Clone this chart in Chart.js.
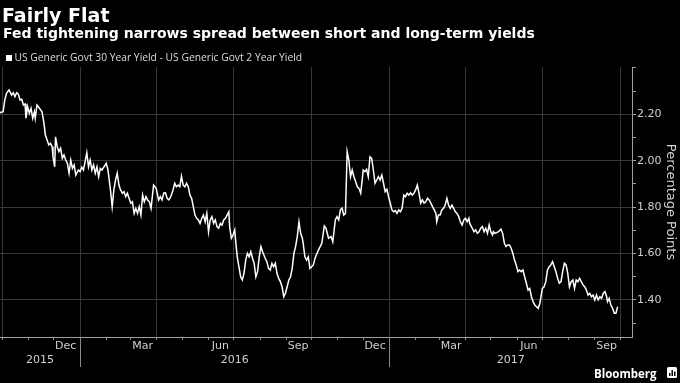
<!DOCTYPE html>
<html>
<head>
<meta charset="utf-8">
<script src="https://cdn.jsdelivr.net/npm/chart.js@4/dist/chart.umd.min.js"></script>
<style>
  html, body { margin: 0; padding: 0; background: #000; }
  canvas { display: block; }
</style>
</head>
<body>
<canvas id="c" width="680" height="383"></canvas>
<script>
// ---- text ----
const chartTitle = 'Fairly Flat';
const chartSubtitle = 'Fed tightening narrows spread between short and long-term yields';
const seriesLabel = 'US Generic Govt 30 Year Yield - US Generic Govt 2 Year Yield';
const axisTitle = 'Percentage Points';
const sourceLabel = 'Bloomberg';

// ---- axis ticks ----
const yTickValues = [1.3, 1.4, 1.5, 1.6, 1.7, 1.8, 1.9, 2.0, 2.1, 2.2, 2.3, 2.4];
const yLabelledTicks = [1.4, 1.6, 1.8, 2.0, 2.2];
const monthLabels = [[2015, 12, 'Dec'], [2016, 3, 'Mar'], [2016, 6, 'Jun'], [2016, 9, 'Sep'],
                     [2016, 12, 'Dec'], [2017, 3, 'Mar'], [2017, 6, 'Jun'], [2017, 9, 'Sep']];
const yearLabels = [2015, 2016, 2017];

// ---- data: days since 2016-01-01, spread in percentage points ----
const dayOffsets = [
  -95,-91,-89,-87,-84,-81,-79,-77,-75,-73,-71,-69,-67,-65,-64,-62,-60,-58,-56,-54,
  -53,-51,-48,-45,-43,-41,-39,-37,-35,-33,-32,-30,-29,-27,-25,-23,-21,-19,-17,-15,
  -13,-11,-9,-7,-5,-2,0,2,4,6,8,10,12,14,16,18,20,22,24,26,
  28,31,33,36,38,40,42,44,46,48,50,52,54,56,58,60,62,64,66,68,
  70,72,74,76,78,80,82,
  84,87,90,93,95,97,99,101,103,105,107,110,112,114,116,118,120,122,124,126,
  128,130,132,134,136,138,140,142,144,146,148,150,152,154,156,158,160,162,164,166,
  168,170,172,174,176,177,179,181,183,184,186,188,190,192,194,196,198,200,202,204,
  206,208,210,212,214,216,219,221,223,225,227,229,231,233,235,237,239,241,243,245,
  247,249,251,253,255,257,259,261,263,264,266,268,270,272,274,276,
  278,282,286,289,291,294,297,299,302,304,306,308,310,312,314,316,318,320,322,324,
  326,328,330,332,334,335,337,339,341,343,345,347,349,351,353,355,357,359,361,363,
  365,367,369,371,373,375,377,379,381,383,385,387,389,391,393,395,397,399,401,403,
  405,407,409,411,413,415,417,419,421,422,424,426,428,430,432,434,436,438,440,442,
  444,446,448,450,452,454,456,458,460,461,
  464,466,468,470,472,474,476,478,480,482,484,486,488,489,491,493,495,498,500,502,
  504,506,508,510,512,514,516,518,520,522,524,526,528,530,532,534,536,538,540,542,
  544,546,547,549,551,553,555,557,559,561,563,565,567,569,571,573,575,577,579,581,
  583,585,587,589,591,593,595,597,599,601,603,605,607,609,611,613,615,617,619,621,
  623,624,626,628,630,632,634,636
];
const spreadPct = [
  2.207,2.211,2.262,2.290,2.305,2.283,2.293,2.276,2.293,2.287,2.262,2.265,2.240,2.244,2.183,2.233,2.204,2.226,2.183,2.211,
  2.183,2.240,2.226,2.211,2.168,2.111,2.089,2.068,2.075,2.060,2.017,1.974,2.103,2.060,2.039,2.054,2.010,2.025,2.003,1.989,
  1.946,2.003,1.967,1.982,1.938,1.960,1.953,1.972,1.960,1.996,2.035,1.974,2.003,1.960,1.982,1.946,1.974,1.931,1.967,1.960,
  1.972,1.989,1.960,1.874,1.802,1.874,1.917,1.946,1.895,1.874,1.860,1.867,1.845,1.860,1.838,1.817,1.823,1.773,1.795,1.773,
  1.802,1.766,1.852,1.823,1.845,1.831,1.823,
  1.795,1.895,1.881,1.831,1.845,1.831,1.860,1.862,1.838,1.831,1.842,1.874,1.903,1.888,1.895,1.888,1.934,1.895,1.888,1.903,
  1.888,1.852,1.838,1.802,1.766,1.752,1.745,1.730,1.752,1.766,1.737,1.773,1.694,1.745,1.759,1.730,1.745,1.716,1.709,1.730,
  1.723,1.745,1.752,1.766,1.780,1.716,1.666,1.680,1.702,1.658,1.586,1.543,1.500,1.486,1.515,1.572,1.601,1.586,1.608,1.580,
  1.558,1.500,1.522,1.586,1.630,1.608,1.580,1.565,1.536,1.529,1.558,1.543,1.558,1.515,1.493,1.479,1.457,1.414,1.429,1.457,
  1.486,1.500,1.536,1.601,1.630,1.673,1.737,1.687,1.666,1.644,1.586,1.572,1.586,1.536,1.543,1.551,
  1.580,1.615,1.644,1.719,1.709,1.666,1.673,1.651,1.745,1.759,1.745,1.788,1.795,1.766,1.773,2.039,2.003,1.931,1.960,1.931,
  1.910,1.888,1.881,1.860,1.924,1.960,1.953,1.963,1.931,2.017,2.010,1.960,1.903,1.917,1.931,1.917,1.938,1.903,1.867,1.877,
  1.845,1.817,1.788,1.780,1.785,1.773,1.788,1.780,1.795,1.852,1.845,1.860,1.852,1.862,1.852,1.860,1.874,1.895,1.860,1.817,
  1.831,1.817,1.823,1.838,1.831,1.817,1.802,1.788,1.773,1.737,1.766,1.766,1.788,1.795,1.809,1.838,1.809,1.795,1.809,1.795,
  1.780,1.773,1.759,1.737,1.723,1.745,1.752,1.737,1.752,1.730,
  1.709,1.694,1.702,1.687,1.694,1.709,1.716,1.694,1.709,1.687,1.723,1.694,1.680,1.694,1.687,1.690,1.694,1.705,1.687,1.644,
  1.630,1.637,1.637,1.623,1.601,1.572,1.551,1.522,1.529,1.522,1.529,1.500,1.472,1.443,1.450,1.414,1.393,1.378,1.371,1.364,
  1.386,1.429,1.450,1.457,1.479,1.529,1.543,1.551,1.565,1.543,1.522,1.493,1.472,1.479,1.522,1.558,1.551,1.515,1.457,1.479,
  1.486,1.450,1.486,1.479,1.493,1.479,1.465,1.457,1.443,1.421,1.429,1.414,1.421,1.400,1.421,1.400,1.414,1.407,1.429,1.436,
  1.414,1.393,1.407,1.378,1.364,1.343,1.343,1.371
];

// ---- helpers ----
const DAY0 = Date.UTC(2016, 0, 1);
const dayOf = (y, m, d) => Math.round((Date.UTC(y, m - 1, d) - DAY0) / 86400000);
const X_MIN = -94.7, X_MAX = 653;
const Y_MIN = 1.2405, Y_MAX = 2.4038;

const monthStarts = [];
for (let y = 2015; y <= 2017; y++) {
  for (let m = 1; m <= 12; m++) {
    const d = dayOf(y, m, 1);
    if (d > X_MIN && d < X_MAX) monthStarts.push({ value: d, quarter: (m - 1) % 3 === 0 });
  }
}
const quarterDays = monthStarts.filter(t => t.quarter).map(t => t.value);
const isMajorY = v => yLabelledTicks.some(t => Math.abs(t - v) < 1e-6);

const decor = {
  id: 'decor',
  afterDraw(chart) {
    const { ctx, chartArea: ca, scales: { x } } = chart;
    ctx.save();
    // headline
    ctx.textAlign = 'left';
    ctx.textBaseline = 'alphabetic';
    ctx.fillStyle = '#ffffff';
    ctx.font = 'bold 19px "DejaVu Sans"';
    ctx.fillText(chartTitle, 2, 21.5);
    ctx.font = 'bold 14px "DejaVu Sans"';
    ctx.fillText(chartSubtitle, 3, 38);
    // legend
    ctx.fillRect(6, 55, 6, 6);
    ctx.fillStyle = '#dddddd';
    ctx.font = '10.3px "Open Sans"';
    ctx.fillText(seriesLabel, 14.5, 61);
    // x labels
    ctx.fillStyle = '#cfcfcf';
    ctx.font = '11px "DejaVu Sans"';
    ctx.textAlign = 'center';
    ctx.textBaseline = 'middle';
    monthLabels.forEach(([yy, mm, name]) => {
      ctx.fillText(name, x.getPixelForValue(dayOf(yy, mm, 15)), 346);
    });
    yearLabels.forEach(yy => {
      const a = Math.max(X_MIN, dayOf(yy, 1, 1));
      const b = Math.min(X_MAX, dayOf(yy + 1, 1, 1));
      ctx.fillText(String(yy), (x.getPixelForValue(a) + x.getPixelForValue(b)) / 2, 360);
    });
    // year separators
    ctx.strokeStyle = '#8a8a8a';
    ctx.lineWidth = 1;
    yearLabels.forEach(yy => {
      const d = dayOf(yy, 1, 1);
      if (d > X_MIN && d < X_MAX) {
        const px = Math.round(x.getPixelForValue(d)) + 0.5;
        ctx.beginPath();
        ctx.moveTo(px, ca.bottom);
        ctx.lineTo(px, ca.bottom + 30);
        ctx.stroke();
      }
    });
    // source
    ctx.textAlign = 'left';
    ctx.textBaseline = 'alphabetic';
    ctx.fillStyle = '#ffffff';
    ctx.font = 'bold 11.5px "Open Sans"';
    ctx.fillText(sourceLabel, 594, 377.5);
    ctx.beginPath();
    ctx.roundRect(667, 367, 10, 11, 1.5);
    ctx.fill();
    ctx.fillStyle = '#000';
    ctx.fillRect(669, 373, 1.5, 3);
    ctx.fillRect(671.5, 370, 1.5, 6);
    ctx.fillRect(674, 371.5, 1.5, 4.5);
    ctx.restore();
  }
};

new Chart(document.getElementById('c'), {
  type: 'line',
  data: {
    datasets: [{
      label: seriesLabel,
      data: dayOffsets.map((d, i) => ({ x: d, y: spreadPct[i] })),
      borderColor: '#ffffff',
      borderWidth: 1.5,
      pointRadius: 0,
      tension: 0,
      fill: false
    }]
  },
  options: {
    responsive: false,
    animation: false,
    devicePixelRatio: 1,
    layout: { padding: { top: 67, left: 0, right: 0, bottom: 0 } },
    plugins: { legend: { display: false }, title: { display: false }, tooltip: { enabled: false } },
    scales: {
      x: {
        type: 'linear', position: 'bottom', min: X_MIN, max: X_MAX,
        afterBuildTicks: s => { s.ticks = monthStarts.map(t => ({ value: t.value })); },
        afterFit: s => { s.height = 46; },
        grid: {
          color: c => (c.tick && quarterDays.includes(c.tick.value)) ? '#383838' : 'rgba(0,0,0,0)',
          tickColor: '#8a8a8a', tickLength: 3, lineWidth: 1
        },
        border: { color: '#a0a0a0', width: 1 },
        ticks: { display: false }
      },
      y: {
        position: 'right', min: Y_MIN, max: Y_MAX,
        afterBuildTicks: s => { s.ticks = yTickValues.map(v => ({ value: v })); },
        afterFit: s => { s.width = 48; },
        grid: {
          color: c => (c.tick && isMajorY(c.tick.value)) ? '#383838' : 'rgba(0,0,0,0)',
          tickColor: '#a0a0a0', tickLength: 4, lineWidth: 1
        },
        border: { color: '#a0a0a0', width: 1 },
        ticks: {
          color: '#cfcfcf', padding: 1,
          font: { family: 'DejaVu Sans', size: 11 },
          callback: v => isMajorY(v) ? v.toFixed(2) : ''
        },
        title: {
          display: true, text: axisTitle, color: '#d5d5d5',
          font: { family: 'DejaVu Sans', size: 13 }, padding: { top: 2, bottom: 0 }
        }
      }
    }
  },
  plugins: [decor]
});
</script>
</body>
</html>
